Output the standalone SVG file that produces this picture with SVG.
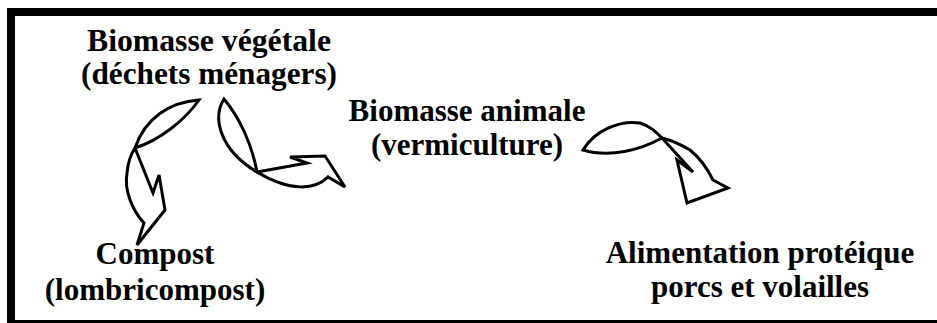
<svg xmlns="http://www.w3.org/2000/svg" width="937" height="323" viewBox="0 0 937 323">
<style>
.t{font-family:"Liberation Serif","Times New Roman",serif;font-weight:bold;font-size:31px;fill:#000;text-anchor:middle}
.a{fill:#fff;stroke:#000;stroke-width:3;stroke-linejoin:miter}
</style>
<rect x="0" y="0" width="937" height="323" fill="#fff"/>
<rect x="11" y="12" width="940" height="312" fill="none" stroke="#000" stroke-width="8"/>
<g id="n-vegetale"><text class="t" x="209" y="51" textLength="244" lengthAdjust="spacingAndGlyphs">Biomasse végétale</text><text class="t" x="209" y="84" textLength="256" lengthAdjust="spacingAndGlyphs">(déchets ménagers)</text></g>
<g id="n-animale"><text class="t" x="467" y="121">Biomasse animale</text><text class="t" x="467" y="155">(vermiculture)</text></g>
<g id="n-compost"><text class="t" x="155" y="264">Compost</text><text class="t" x="155" y="300">(lombricompost)</text></g>
<g id="n-alim"><text class="t" x="760" y="263">Alimentation protéique</text><text class="t" x="760" y="297">porcs et volailles</text></g>
<g id="connectors">
<path class="a" d="M199,100 C170,102 145,118 135,148 C160,140 185,120 199,100 Z"/>
<path class="a" d="M135,148 L153,193 L159,175 L165,210 L137,245 L144,223 C132,210 124,190 127,173 C128,162 131,154 135,148 Z"/>
<path class="a" d="M224,99 C212,118 220,150 257,172 C252,145 240,118 224,99 Z"/>
<path class="a" d="M257,172 L307,163 L290,157 L325,156 L345,187 L328,177 C315,190 290,192 257,172 Z"/>
<path class="a" d="M583,150 C595,130 620,120 640,123 C650,126 656,132 662,138 C640,150 610,158 583,150 Z"/>
<path class="a" d="M662,138 L693,172 L677,160 L687,203 L728,188 L713,180 C708,170 700,158 690,150 C680,144 670,140 662,138 Z"/>
</g>
</svg>
